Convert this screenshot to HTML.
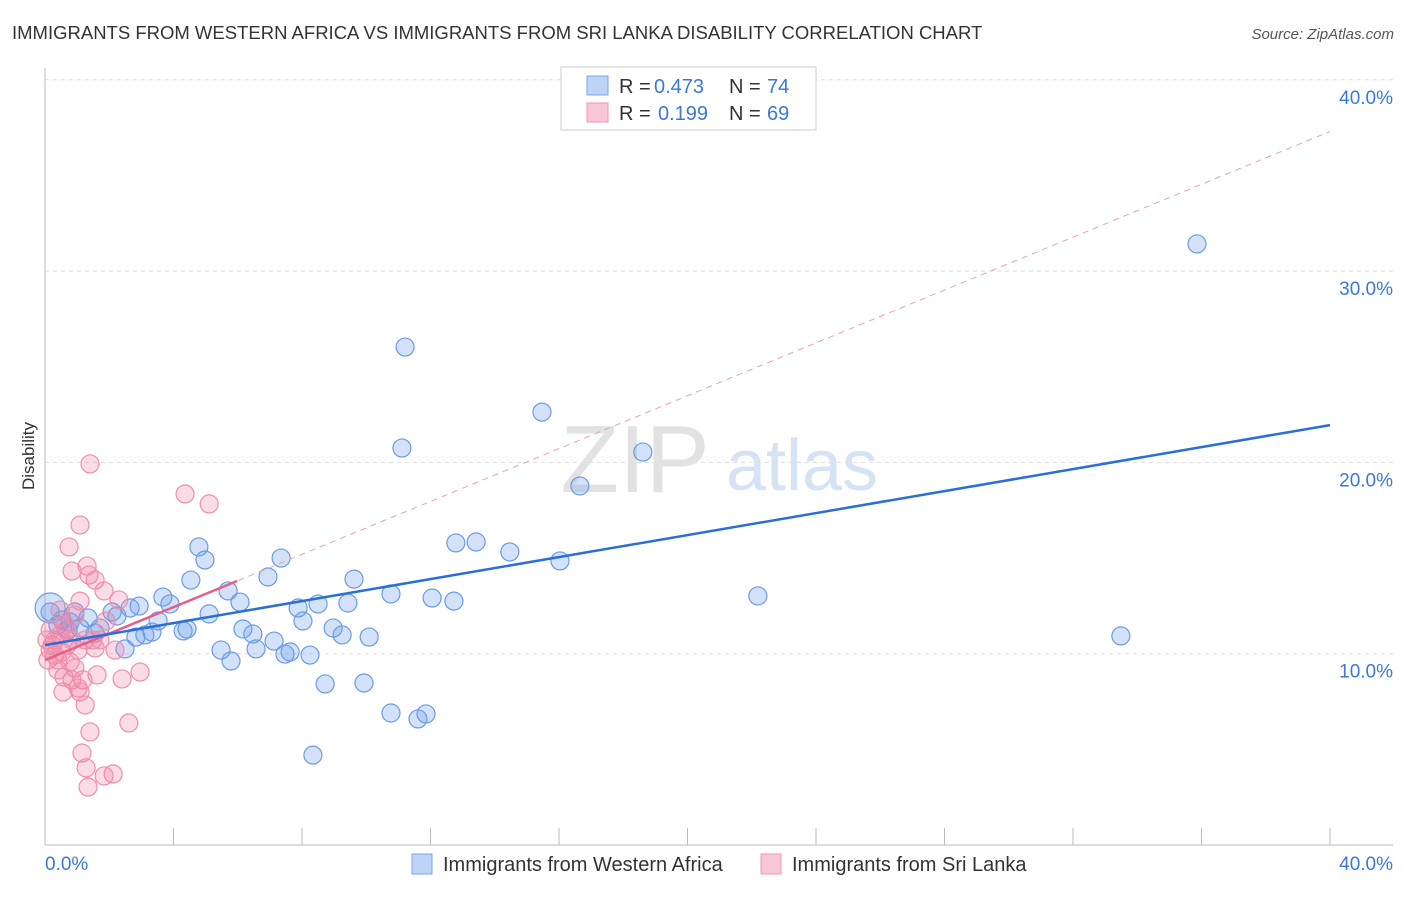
<!DOCTYPE html>
<html><head><meta charset="utf-8"><style>
body{margin:0;background:#fff;font-family:"Liberation Sans",sans-serif}
svg text{font-family:"Liberation Sans",sans-serif}
</style></head><body>
<svg id="chart" width="1406" height="892" xmlns="http://www.w3.org/2000/svg">
<text x="12" y="39" font-size="18.5" fill="#333">IMMIGRANTS FROM WESTERN AFRICA VS IMMIGRANTS FROM SRI LANKA DISABILITY CORRELATION CHART</text>
<text x="1394" y="39" font-size="15" fill="#555" font-style="italic" text-anchor="end">Source: ZipAtlas.com</text>
<g><text x="635" y="492" font-size="96" fill="#e2e2e2" font-family="Liberation Serif,serif" text-anchor="middle">ZIP</text><text x="802" y="490" font-size="72" fill="#d6e3f5" text-anchor="middle">atlas</text></g>
<g id="grid"></g><g id="axes"></g><g id="marks"></g>
<g>
<rect x="561" y="67" width="255" height="63" fill="#fff" stroke="#ccc"/>
<rect x="587" y="76" width="21" height="19" fill="#bcd4f6" stroke="#7aa6e8"/>
<rect x="587" y="103" width="21" height="19" fill="#f9c6d5" stroke="#ee9ab2"/>
<text y="93" font-size="20" fill="#333"><tspan x="619">R =</tspan><tspan x="654" fill="#3b78d8">0.473</tspan><tspan x="729">N =</tspan><tspan x="767" fill="#3b78d8">74</tspan></text>
<text y="120" font-size="20" fill="#333"><tspan x="619">R =</tspan><tspan x="658" fill="#3b78d8">0.199</tspan><tspan x="729">N =</tspan><tspan x="767" fill="#3b78d8">69</tspan></text>
</g>
<g>
<rect x="412" y="854" width="20" height="20" fill="#bcd4f6" stroke="#7aa6e8"/>
<text x="443" y="871" font-size="20" fill="#333">Immigrants from Western Africa</text>
<rect x="761" y="854" width="20" height="20" fill="#f9c6d5" stroke="#ee9ab2"/>
<text x="792" y="871" font-size="20" fill="#333">Immigrants from Sri Lanka</text>
</g>
<text transform="translate(34,456) rotate(-90)" font-size="17" fill="#333" text-anchor="middle">Disability</text>
</svg>
<script>
const yTicks=[10,20,30,40];
const blueX=[35.86,11.21,15.47,11.11,18.61,16.65,4.79,12.79,13.42,14.47,16.03,7.35,4.98,6.94,9.62,4.54,5.70,3.67,2.93,3.89,6.07,10.77,12.05,12.73,8.50,9.43,22.19,7.88,5.11,2.65,2.09,2.24,0.93,1.34,0.53,0.16,8.03,8.97,33.49,6.16,3.52,4.30,4.42,3.33,3.11,2.83,6.47,7.13,10.09,9.25,5.48,6.57,7.63,7.47,8.25,5.79,2.49,1.56,0.72,0.40,1.71,8.72,9.93,10.77,11.86,11.61,8.34,0.16,1.09,0.78];
const blueY=[31.42,26.03,22.63,20.75,20.54,18.77,15.58,15.79,15.84,15.32,14.85,15.0,14.9,14.01,13.9,13.85,13.28,12.96,12.49,12.6,12.7,13.12,12.91,12.75,12.6,12.65,13.02,12.39,12.08,12.39,12.18,11.97,12.18,11.87,11.76,12.18,11.71,11.34,10.93,11.29,11.71,11.19,11.29,11.13,10.98,10.87,11.03,10.66,10.87,10.98,10.19,10.25,10.09,9.98,9.93,9.62,10.25,11.08,11.24,11.5,11.34,8.42,8.47,6.9,6.85,6.59,4.70,12.39,11.34,11.66];
const pinkX=[1.40,4.36,5.11,1.09,0.75,1.31,0.84,1.37,1.56,1.84,2.30,1.09,0.47,0.93,1.90,0.65,1.49,0.31,0.16,0.53,0.40,0.78,0.93,2.96,1.62,0.59,0.84,1.18,1.03,2.40,0.56,1.09,1.25,2.61,1.40,1.15,1.28,2.12,1.84,1.34,0.09,0.31,0.22,0.47,0.62,0.68,1.03,1.25,1.56,2.18,0.84,0.40,1.71,0.06,0.16];
const pinkY=[19.92,18.35,17.83,16.73,15.58,14.58,14.32,14.11,13.85,13.28,12.81,12.75,12.28,12.02,11.71,11.24,10.72,10.72,10.19,10.09,9.67,9.57,9.25,9.04,8.89,8.78,8.63,8.63,8.21,8.68,8.0,8.0,7.32,6.38,5.91,4.81,4.03,3.71,3.61,3.03,9.67,9.93,10.45,10.98,11.5,10.45,10.19,10.72,10.3,10.19,10.72,9.15,10.72,10.72,11.24];
const blueTrend=[10.45,21.95];
const pinkTrend=[9.67,37.3];
const pinkSolidEnd=5.98;
const NS="http://www.w3.org/2000/svg";
const X=v=>45+v*32.125, Y=v=>845-v*19.13;
function mk(t,a,p){const e=document.createElementNS(NS,t);for(const k in a)e.setAttribute(k,a[k]);p.appendChild(e);return e;}
const grid=document.getElementById('grid'),axes=document.getElementById('axes'),marks=document.getElementById('marks');
yTicks.forEach(t=>{
 const l=mk('line',{x1:45,x2:1393,y1:Y(t),y2:Y(t),stroke:'#ddd','stroke-dasharray':'4,4'},grid);
 
 
 const tx=mk('text',{x:1393,y:Y(t)+24,'font-size':19,fill:'#3b78d8','text-anchor':'end'},axes);
 tx.textContent=t.toFixed(1)+'%';
 
 
});
mk('line',{x1:45,x2:45,y1:68,y2:845,stroke:'#bbb'},axes);
mk('line',{x1:45,x2:1393,y1:845,y2:845,stroke:'#bbb'},axes);
for(let i=0;i<=10;i++){mk('line',{x1:X(i*4),x2:X(i*4),y1:828,y2:845,stroke:'#bbb'},axes);}
const x0=mk('text',{x:45,y:870,'font-size':19,fill:'#3b78d8'},axes);x0.textContent='0.0%';


const x1=mk('text',{x:1393,y:870,'font-size':19,fill:'#3b78d8','text-anchor':'end'},axes);x1.textContent='40.0%';


blueX.forEach((v,i)=>{const c=mk('circle',{cx:X(v),cy:Y(blueY[i]),r:i==blueX.length-3?15:9,fill:'rgba(110,160,235,0.3)',stroke:'#6a9be3','stroke-width':1.2},marks);
 
 });
pinkX.forEach((v,i)=>{const c=mk('circle',{cx:X(v),cy:Y(pinkY[i]),r:9,fill:'rgba(240,130,165,0.28)',stroke:'#ee8fab','stroke-width':1.2},marks);
 
 });
const pd=mk('line',{x1:X(0),y1:Y(pinkTrend[0]),x2:X(40),y2:Y(pinkTrend[1]),stroke:'#e8a0b5','stroke-dasharray':'6,5','stroke-width':1},marks);


const ps=mk('line',{x1:X(0),y1:Y(pinkTrend[0]),x2:X(pinkSolidEnd),y2:Y(pinkTrend[0]+(pinkTrend[1]-pinkTrend[0])*pinkSolidEnd/40),stroke:'#e4608a','stroke-width':2.5},marks);


const bl=mk('line',{x1:X(0),y1:Y(blueTrend[0]),x2:X(40),y2:Y(blueTrend[1]),stroke:'#2a6fd6','stroke-width':2.5},marks);


</script>
</body></html>
